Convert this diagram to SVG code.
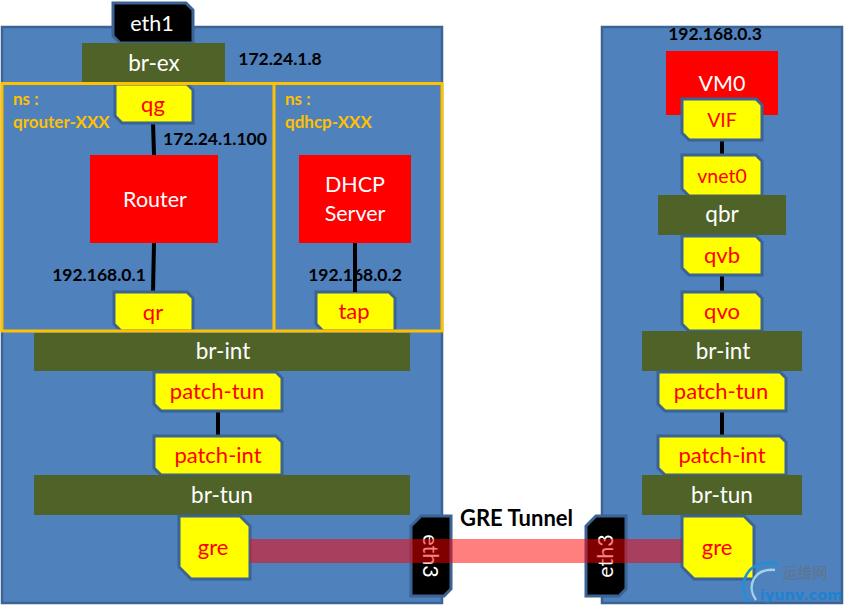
<svg xmlns="http://www.w3.org/2000/svg" width="845" height="606" viewBox="0 0 845 606">
<style>
text{font-family:Lato,"Liberation Sans",sans-serif;text-anchor:middle}
.panel{fill:#4f81bd;stroke:#3b6394;stroke-width:2.5}
.bridge{fill:#4f6228}
.bridge-t{fill:#fff;font-size:22.5px}
.port{fill:#ff0;stroke:#3b6394;stroke-width:3}
.port-t{fill:#f00;font-size:22px}
.port-s{fill:#f00;font-size:19.5px}
.block{fill:#f00}
.block-t{fill:#fff;font-size:21.5px}
.nic{fill:#000;stroke:#3b6394;stroke-width:3}
.ip{fill:#000;font-size:17.5px;font-weight:700}
.ns{fill:#ffc000;font-size:17px;font-weight:700;text-anchor:start}
.link{stroke:#000;stroke-width:4;fill:none}
</style>
<rect class="panel" x="2" y="27" width="440" height="576"/>
<rect class="panel" x="602" y="27" width="240" height="576"/>

<g id="connectors">
<line class="link" x1="153" y1="122" x2="154" y2="155"/>
<line class="link" x1="154" y1="243" x2="153" y2="292"/>
<line class="link" x1="355" y1="243" x2="355" y2="292"/>
<line class="link" x1="218" y1="410" x2="218" y2="436"/>
<line class="link" x1="722" y1="139" x2="722" y2="155"/>
<line class="link" x1="722" y1="275" x2="722" y2="292"/>
<line class="link" x1="722" y1="410" x2="722" y2="436"/>
</g>

<g id="eth1"><path class="nic" d="M113 3H186L193 10V43H120L113 36Z"/><text class="block-t" x="152" y="31">eth1</text></g>
<g id="br-ex"><rect class="bridge" x="82" y="43" width="143" height="39"/><text class="bridge-t" x="154" y="71">br-ex</text></g>
<text class="ip" x="280" y="65">172.24.1.8</text>

<g id="qg"><path class="port" d="M115 84H187L193 90V123H122L115 116Z"/><text class="port-t" x="153" y="112">qg</text></g>
<g id="qr"><path class="port" d="M114 292H187L193 298V331H121L114 324Z"/><text class="port-t" x="153" y="320">qr</text></g>
<g id="tap"><path class="port" d="M316 292H389L395 298V331H323L316 324Z"/><text class="port-t" x="354" y="319">tap</text></g>

<g id="namespaces">
<rect x="2" y="83.5" width="440" height="247.500" fill="none" stroke="#ffc000" stroke-width="3"/>
<line x1="274" y1="83.500" x2="274" y2="331" stroke="#ffc000" stroke-width="3"/>
<text class="ns" x="13" y="105">ns :</text>
<text class="ns" x="13" y="128">qrouter-XXX</text>
<text class="ns" x="285" y="105">ns :</text>
<text class="ns" x="285" y="128">qdhcp-XXX</text>
</g>
<text class="ip" x="215" y="145">172.24.1.100</text>

<g id="router"><rect class="block" x="90" y="155" width="128" height="88"/><text class="block-t" x="155" y="207">Router</text></g>
<g id="dhcp"><rect class="block" x="299" y="155" width="112" height="88"/><text class="block-t" x="355" y="192">DHCP</text><text class="block-t" x="355" y="221">Server</text></g>
<line class="link" x1="355" y1="243" x2="355" y2="292"/>
<text class="ip" x="99" y="281">192.168.0.1</text>
<text class="ip" x="355" y="281">192.168.0.2</text>

<g id="br-int-l"><rect class="bridge" x="34" y="333" width="376" height="38"/><text class="bridge-t" x="223" y="359">br-int</text></g>
<g id="patch-tun-l"><path class="port" d="M154 372H276L282 378V411H161L154 404Z"/><text class="port-t" x="217" y="399">patch-tun</text></g>
<g id="patch-int-l"><path class="port" d="M154 436H276L282 442V475H161L154 468Z"/><text class="port-t" x="218" y="463">patch-int</text></g>
<g id="br-tun-l"><rect class="bridge" x="34" y="475" width="376" height="40"/><text class="bridge-t" x="222" y="503">br-tun</text></g>
<g id="gre-l"><path class="port" d="M179 516H240L250 526V579H191L179 567Z"/><text class="port-t" x="213" y="555">gre</text></g>
<g id="eth3-l"><path class="nic" d="M421 516H451V589L444 596H411V526Z"/><text class="block-t" transform="translate(423 556) rotate(90)">eth3</text></g>
<g id="eth3-r"><path class="nic" d="M596 516H626V589L619 596H586V526Z"/><text class="block-t" transform="translate(613 556) rotate(-90)">eth3</text></g>

<g id="vm0"><rect class="block" x="666" y="51" width="112" height="64"/><text class="block-t" x="722" y="91">VM0</text></g>
<text class="ip" x="715" y="40">192.168.0.3</text>
<g id="vif"><path class="port" d="M682 99H756L762 105V140H689L682 133Z"/><text class="port-s" x="722" y="127">VIF</text></g>
<g id="vnet0"><path class="port" d="M682 155H756L762 161V196H689L682 189Z"/><text class="port-s" x="722" y="183">vnet0</text></g>
<g id="qbr"><rect class="bridge" x="658" y="195" width="128" height="40"/><text class="bridge-t" x="722" y="222">qbr</text></g>
<g id="qvb"><path class="port" d="M682 236H756L762 242V275H689L682 268Z"/><text class="port-t" x="722" y="263">qvb</text></g>
<g id="qvo"><path class="port" d="M682 292H756L762 298V331H689L682 324Z"/><text class="port-t" x="722" y="319">qvo</text></g>
<g id="br-int-r"><rect class="bridge" x="642" y="331" width="160" height="40"/><text class="bridge-t" x="723" y="359">br-int</text></g>
<g id="patch-tun-r"><path class="port" d="M658 372H780L786 378V411H665L658 404Z"/><text class="port-t" x="721" y="399">patch-tun</text></g>
<g id="patch-int-r"><path class="port" d="M658 436H780L786 442V475H665L658 468Z"/><text class="port-t" x="722" y="463">patch-int</text></g>
<g id="br-tun-r"><rect class="bridge" x="642" y="475" width="160" height="40"/><text class="bridge-t" x="722" y="503">br-tun</text></g>
<g id="gre-r"><path class="port" d="M682 516H744L754 526V579H694L682 567Z"/><text class="port-t" x="717" y="555">gre</text></g>

<rect id="gre-tunnel" x="250" y="539" width="432" height="24" fill="#f00" fill-opacity=".5"/>
<text x="516.500" y="526" fill="#000" font-size="22" font-weight="700">GRE Tunnel</text>

<g id="watermark" fill="none">
<path d="M749 602C736 586 746 557 778 564" stroke="#1e90d8" stroke-width="2.500"/>
<path d="M756 600C746 586 754 568 775 570" stroke="#9bd3f2" stroke-width="2.500"/>
<text x="805" y="578" fill="#5f7488" font-size="15" style="font-family:'Noto Sans CJK SC',sans-serif">运维网</text>
<text x="801" y="600" fill="#1e82d2" font-size="14.500" font-weight="700" style="font-family:'DejaVu Sans',sans-serif">iyunv.com</text>
</g>
</svg>
